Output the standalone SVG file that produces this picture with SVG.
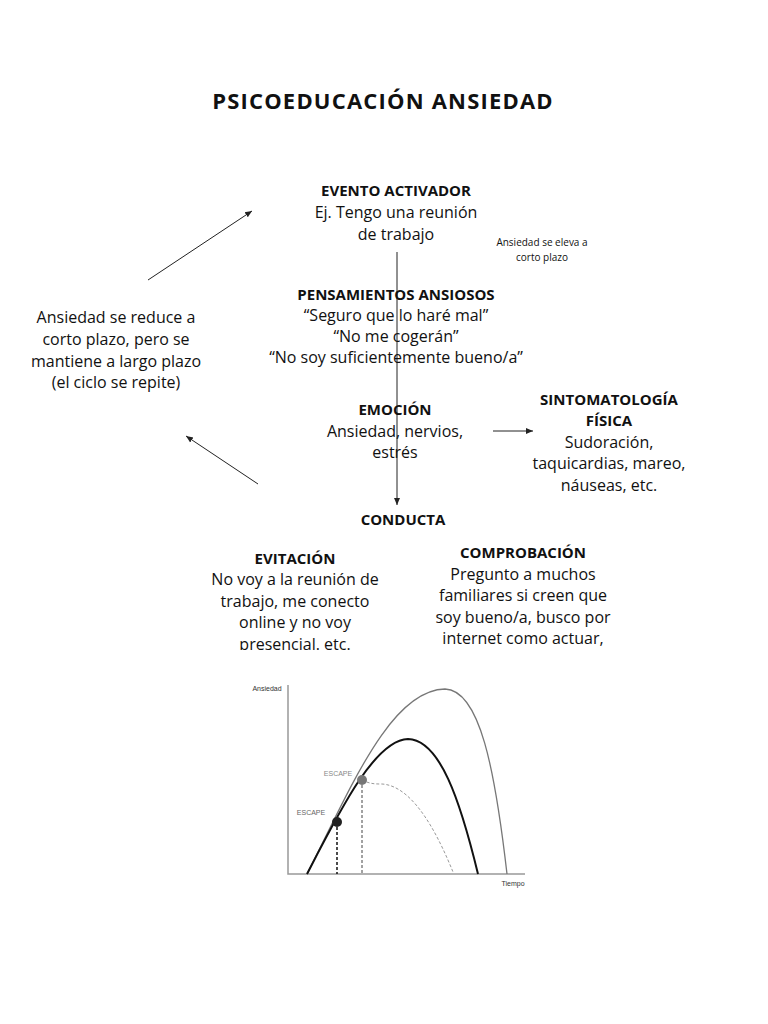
<svg xmlns="http://www.w3.org/2000/svg" width="768" height="1024" viewBox="0 0 768 1024">
<defs>
<marker id="ah" markerWidth="8" markerHeight="8" refX="7" refY="4" orient="auto" markerUnits="userSpaceOnUse"><path d="M0,1 L7,4 L0,7 z" fill="#222"/></marker>
<clipPath id="cut"><rect x="0" y="0" width="768" height="650"/></clipPath>
<style>
text{font-family:"Open Sans","Liberation Sans",sans-serif;fill:#111;text-anchor:middle}
.h{font-weight:bold;font-size:15px}
.b{font-size:16px}
.s{font-size:10px}
.c{stroke:#222;stroke-width:1;fill:none}
.g{font-family:"Liberation Sans",sans-serif;font-size:7px;fill:#333}
</style>
</defs>
<rect width="768" height="1024" fill="#fff"/>
<text x="383" y="109" style="font-weight:bold;font-size:22px;letter-spacing:1.2px">PSICOEDUCACIÓN ANSIEDAD</text>
<g id="connectors">
<line class="c" x1="397" y1="252" x2="397" y2="505" marker-end="url(#ah)"/>
<line class="c" x1="148" y1="280" x2="252" y2="211" marker-end="url(#ah)"/>
<line class="c" x1="258" y1="484" x2="186" y2="436" marker-end="url(#ah)"/>
<line class="c" x1="493" y1="431" x2="533" y2="431" marker-end="url(#ah)"/>
</g>
<g id="evento"><text class="h" x="396" y="196">EVENTO ACTIVADOR</text><text class="b" x="396" y="218">Ej. Tengo una reunión</text><text class="b" x="396" y="240">de trabajo</text></g>
<g id="eleva"><text class="s" x="542" y="246">Ansiedad se eleva a</text><text class="s" x="542" y="261">corto plazo</text></g>
<g id="pensamientos"><text class="h" x="396" y="300">PENSAMIENTOS ANSIOSOS</text><text class="b" x="396" y="321">“Seguro que lo haré mal”</text><text class="b" x="396" y="342">“No me cogerán”</text><text class="b" x="396" y="363">“No soy suficientemente bueno/a”</text></g>
<g id="reduce"><text class="b" x="116" y="323">Ansiedad se reduce a</text><text class="b" x="116" y="345">corto plazo, pero se</text><text class="b" x="116" y="367">mantiene a largo plazo</text><text class="b" x="116" y="388">(el ciclo se repite)</text></g>
<g id="emocion"><text class="h" x="395" y="415">EMOCIÓN</text><text class="b" x="395" y="437">Ansiedad, nervios,</text><text class="b" x="395" y="458">estrés</text></g>
<g id="sintomas"><text class="h" x="609" y="405">SINTOMATOLOGÍA</text><text class="h" x="609" y="426">FÍSICA</text><text class="b" x="609" y="448">Sudoración,</text><text class="b" x="609" y="469">taquicardias, mareo,</text><text class="b" x="609" y="491">náuseas, etc.</text></g>
<g id="conducta"><text class="h" x="403" y="525">CONDUCTA</text></g>
<g id="evitacion" clip-path="url(#cut)"><text class="h" x="295" y="564">EVITACIÓN</text><text class="b" x="295" y="585">No voy a la reunión de</text><text class="b" x="295" y="607">trabajo, me conecto</text><text class="b" x="295" y="628">online y no voy</text><text class="b" x="295" y="650">presencial. etc.</text></g>
<g id="comprobacion"><text class="h" x="523" y="558">COMPROBACIÓN</text><text class="b" x="523" y="580">Pregunto a muchos</text><text class="b" x="523" y="601">familiares si creen que</text><text class="b" x="523" y="623">soy bueno/a, busco por</text><text class="b" x="523" y="644">internet como actuar,</text></g>
<g id="grafico">
<polyline points="288,685 288,874 525,874" fill="none" stroke="#999" stroke-width="1.5"/>
<text class="g" x="267" y="691">Ansiedad</text>
<text class="g" x="513" y="886">Tiempo</text>
<path d="M307,874 C350,790 390,690 445,689 C480,690 495,770 507,874" fill="none" stroke="#777" stroke-width="1.3"/>
<path d="M307,874 C340,810 375,740 408,739 C440,740 460,800 478,874" fill="none" stroke="#111" stroke-width="2"/>
<path d="M362,780 C370,784 375,784 382,784 C415,786 440,840 453,872" fill="none" stroke="#999" stroke-width="1" stroke-dasharray="3,2"/>
<line x1="337" y1="822" x2="337" y2="874" stroke="#111" stroke-width="1.5" stroke-dasharray="3,2"/>
<line x1="362" y1="780" x2="362" y2="874" stroke="#444" stroke-width="1" stroke-dasharray="3,2"/>
<circle cx="337" cy="822" r="5" fill="#222"/>
<circle cx="362" cy="780" r="5" fill="#777"/>
<text class="g" x="338" y="776" style="fill:#888">ESCAPE</text>
<text class="g" x="311" y="815" style="fill:#666">ESCAPE</text>
</g>
</svg>
